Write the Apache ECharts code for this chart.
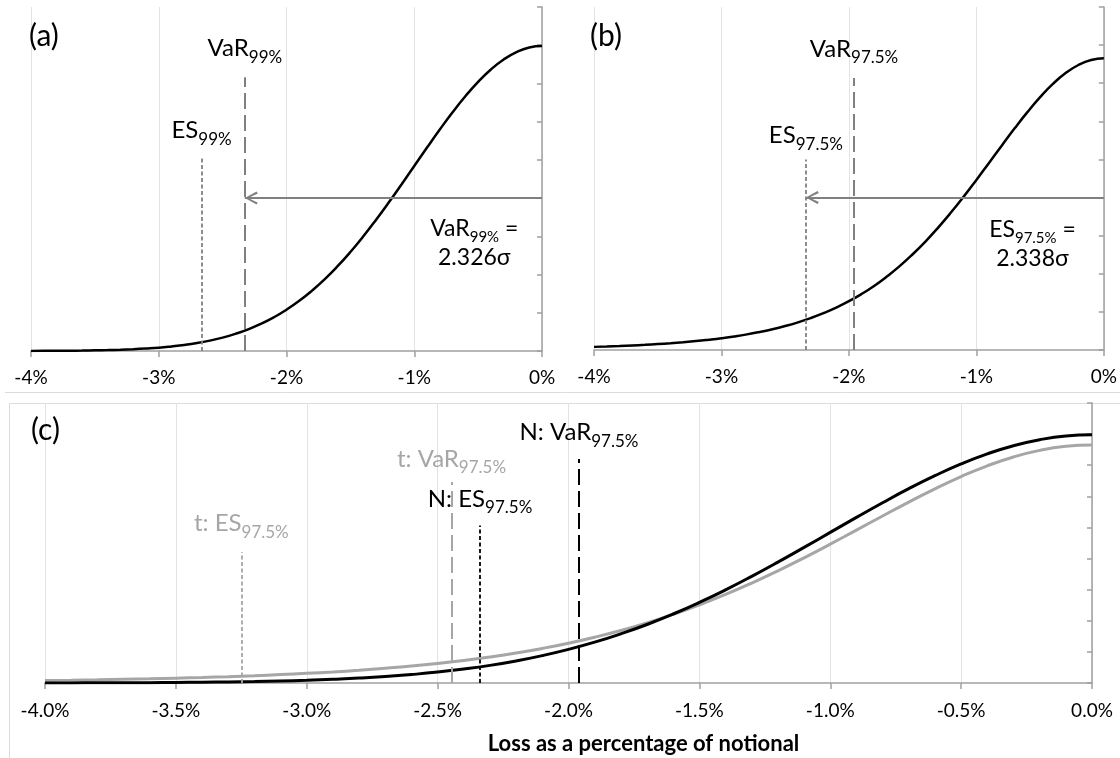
<!DOCTYPE html>
<html>
<head>
<meta charset="utf-8">
<title>VaR and ES</title>
<script src="https://cdn.jsdelivr.net/npm/echarts@6/dist/echarts.min.js"></script>
<style>
  html, body { margin: 0; padding: 0; background: #fff; }
  #chart { width: 1120px; height: 758px; }
</style>
</head>
<body>
<div id="chart"></div>
<script>
// loss as % of notional (sigma = 1%)
const lossPct = [-4.0, -3.9, -3.8, -3.7, -3.6, -3.5, -3.4, -3.3, -3.2, -3.1,
  -3.0, -2.9, -2.8, -2.7, -2.6, -2.5, -2.4, -2.3, -2.2, -2.1,
  -2.0, -1.9, -1.8, -1.7, -1.6, -1.5, -1.4, -1.3, -1.2, -1.1,
  -1.0, -0.9, -0.8, -0.7, -0.6, -0.5, -0.4, -0.3, -0.2, -0.1, 0.0];

// density
const normalPdf = [0.0001, 0.0002, 0.0003, 0.0004, 0.0006, 0.0009, 0.0012, 0.0017, 0.0024, 0.0033,
  0.0044, 0.0060, 0.0079, 0.0104, 0.0136, 0.0175, 0.0224, 0.0283, 0.0355, 0.0440,
  0.0540, 0.0656, 0.0790, 0.0940, 0.1109, 0.1295, 0.1497, 0.1714, 0.1942, 0.2179,
  0.2420, 0.2661, 0.2897, 0.3123, 0.3332, 0.3521, 0.3683, 0.3814, 0.3910, 0.3970, 0.3989];

const tPdf = [0.0041, 0.0046, 0.0052, 0.0060, 0.0068, 0.0078, 0.0089, 0.0102, 0.0117, 0.0135,
  0.0155, 0.0178, 0.0205, 0.0237, 0.0273, 0.0315, 0.0363, 0.0419, 0.0483, 0.0556,
  0.0640, 0.0736, 0.0844, 0.0967, 0.1103, 0.1256, 0.1423, 0.1606, 0.1803, 0.2012,
  0.2231, 0.2457, 0.2684, 0.2908, 0.3121, 0.3318, 0.3491, 0.3633, 0.3739, 0.3805, 0.3827];

// risk measures, % loss
const normal99 = [-2.326, -2.665];   // VaR, ES
const normal975 = [-1.960, -2.338];  // VaR, ES
const t975 = [-2.447, -3.250];       // VaR, ES

const FONT = 'Lato, "Open Sans", sans-serif';
const GREY = '#808080';
const LIGHT = '#a6a6a6';
const AXIS = '#a0a0a0';
const CHEVRON = 'path://M0,10 L17,0 L19,3 L5,10 L19,17 L17,20 Z';

const RICH = {
  m: { fontSize: 24, lineHeight: 28, fontFamily: FONT },
  s: { fontSize: 17, lineHeight: 17, padding: [18, 0, 0, 0], fontFamily: FONT },
  e: { fontSize: 23, lineHeight: 29, fontFamily: FONT },
  es: { fontSize: 15, lineHeight: 15, padding: [17, 0, 0, 0], fontFamily: FONT }
};

function pairs(ys) {
  return lossPct.map((x, i) => [x, ys[i]]);
}

function vseg(x, top, color, dash, width) {
  const ls = { color: color, type: dash, width: width, cap: 'butt' };
  return [{ coord: [x, 0], lineStyle: ls }, { coord: [x, top], lineStyle: ls }];
}

function hseg(x1, x2, y) {
  const ls = { color: GREY, type: 'solid', width: 2 };
  return [{ coord: [x1, y], lineStyle: ls }, { coord: [x2, y], lineStyle: ls }];
}

function tag(x, y, text, color) {
  return { coord: [x, y], label: { formatter: text, color: color || '#000' } };
}

function arrowHead(x, y) {
  return {
    coord: [x, y], symbol: CHEVRON, symbolSize: [13, 13], symbolOffset: [6.5, 0],
    itemStyle: { color: GREY }, label: { show: false }
  };
}

function marks(lines, points) {
  return {
    markLine: {
      silent: true, symbol: ['none', 'none'], label: { show: false },
      emphasis: { disabled: true }, data: lines
    },
    markPoint: {
      silent: true, symbol: 'circle', symbolSize: 0,
      label: { show: true, position: 'inside', color: '#000', rich: RICH },
      data: points
    }
  };
}

function xAxisFor(grid, step, fmt, margin) {
  return {
    type: 'value', gridIndex: grid, min: -4, max: 0, interval: step,
    axisLine: { lineStyle: { color: AXIS, width: 1.5 } },
    axisTick: { length: 6, lineStyle: { color: AXIS, width: 1.5 } },
    axisLabel: { fontSize: 19, color: '#000', fontFamily: FONT, margin: margin, formatter: fmt },
    splitLine: { show: true, lineStyle: { color: '#e3e3e3', width: 1 } }
  };
}

function yAxisFor(grid) {
  return {
    type: 'value', gridIndex: grid, position: 'right', min: 0, max: 0.45, interval: 0.05,
    axisLine: { show: true, onZero: false, lineStyle: { color: AXIS, width: 1.5 } },
    axisTick: { show: true, inside: true, length: 5, lineStyle: { color: AXIS, width: 1.5 } },
    axisLabel: { show: false },
    splitLine: { show: false }
  };
}

const pctWhole = v => v + '%';
const pctOne = v => v.toFixed(1) + '%';

const xa = xAxisFor(0, 1, pctWhole, 17);
const xb = xAxisFor(1, 1, pctWhole, 17);
const xc = xAxisFor(2, 0.5, pctOne, 18);
xc.name = 'Loss as a percentage of notional';
xc.nameLocation = 'middle';
xc.nameGap = 50;
xc.nameTextStyle = { fontSize: 22, fontWeight: 'bold', color: '#000', fontFamily: FONT, padding: [0, 0, 0, 150] };

const titleStyle = { fontSize: 30, fontWeight: 'normal', color: '#000', fontFamily: FONT };

const chart = echarts.init(document.getElementById('chart'));
chart.setOption({
  animation: false,
  backgroundColor: '#fff',
  title: [
    { text: '(a)', left: 24, top: 16, textStyle: titleStyle },
    { text: '(b)', left: 585, top: 16, textStyle: titleStyle },
    { text: '(c)', left: 26, top: 410, textStyle: titleStyle }
  ],
  graphic: [
    { type: 'line', silent: true, shape: { x1: 5, y1: 392.5, x2: 1120, y2: 392.5 }, style: { stroke: '#dcdcdc', lineWidth: 1 } },
    { type: 'line', silent: true, shape: { x1: 9.5, y1: 403.5, x2: 1120, y2: 403.5 }, style: { stroke: '#dcdcdc', lineWidth: 1 } },
    { type: 'line', silent: true, shape: { x1: 9.5, y1: 403.5, x2: 9.5, y2: 758 }, style: { stroke: '#dcdcdc', lineWidth: 1 } }
  ],
  grid: [
    { left: 31, right: 578, top: 7, bottom: 407 },
    { left: 594, right: 14, top: 7, bottom: 408 },
    { left: 45, right: 28, top: 403, bottom: 75 }
  ],
  xAxis: [xa, xb, xc],
  yAxis: [yAxisFor(0), yAxisFor(1), yAxisFor(2)],
  series: [
    Object.assign({
      type: 'line', xAxisIndex: 0, yAxisIndex: 0, data: pairs(normalPdf),
      smooth: true, showSymbol: false, lineStyle: { color: '#000', width: 2.5 }, z: 3
    }, marks([
      vseg(normal99[0], 0.358, GREY, [16, 6], 2),
      vseg(normal99[1], 0.253, GREY, [4, 2.5], 1.8),
      hseg(0, normal99[0], 0.2)
    ], [
      tag(normal99[0], 0.396, '{m|VaR}{s|99%}'),
      tag(normal99[1], 0.289, '{m|ES}{s|99%}'),
      tag(-0.53, 0.141, '{e|VaR}{es|99%}{e| =}\n{e|2.326σ}'),
      arrowHead(normal99[0], 0.2)
    ])),
    Object.assign({
      type: 'line', xAxisIndex: 1, yAxisIndex: 1, data: pairs(tPdf),
      smooth: true, showSymbol: false, lineStyle: { color: '#000', width: 2.5 }, z: 3
    }, marks([
      vseg(normal975[0], 0.357, GREY, [16, 6], 2),
      vseg(normal975[1], 0.25, GREY, [4, 2.5], 1.8),
      hseg(0, normal975[1], 0.2)
    ], [
      tag(normal975[0], 0.395, '{m|VaR}{s|97.5%}'),
      tag(normal975[1], 0.282, '{m|ES}{s|97.5%}'),
      tag(-0.56, 0.139, '{e|ES}{es|97.5%}{e| =}\n{e|2.338σ}'),
      arrowHead(normal975[1], 0.2)
    ])),
    Object.assign({
      type: 'line', xAxisIndex: 2, yAxisIndex: 2, data: pairs(tPdf),
      smooth: true, showSymbol: false, lineStyle: { color: LIGHT, width: 3 }, z: 2
    }, marks([
      vseg(t975[0], 0.323, LIGHT, [16, 6], 2),
      vseg(t975[1], 0.21, LIGHT, [4, 2.5], 1.8)
    ], [
      tag(t975[0], 0.360, '{m|t: VaR}{s|97.5%}', LIGHT),
      tag(t975[1], 0.256, '{m|t: ES}{s|97.5%}', LIGHT)
    ])),
    Object.assign({
      type: 'line', xAxisIndex: 2, yAxisIndex: 2, data: pairs(normalPdf),
      smooth: true, showSymbol: false, lineStyle: { color: '#000', width: 3 }, z: 3
    }, marks([
      vseg(normal975[0], 0.36, '#000', [16, 6], 2),
      vseg(normal975[1], 0.253, '#000', [4, 2.5], 1.8)
    ], [
      tag(normal975[0], 0.403, '{m|N: VaR}{s|97.5%}'),
      tag(normal975[1], 0.296, '{m|N: ES}{s|97.5%}')
    ]))
  ]
});
</script>
</body>
</html>
